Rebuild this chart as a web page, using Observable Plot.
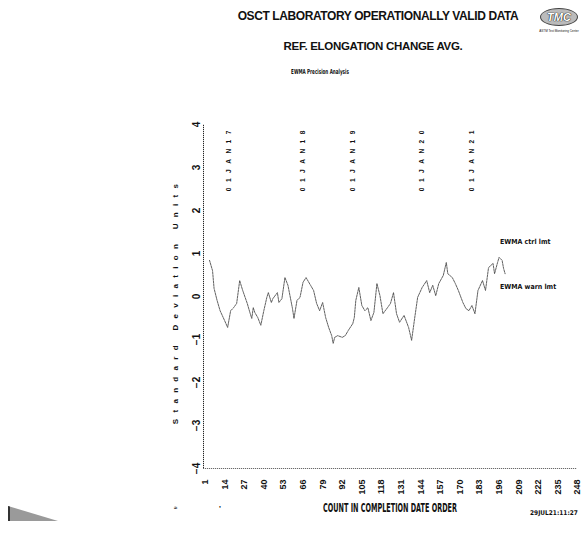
<!DOCTYPE html>
<html><head><meta charset="utf-8">
<script src="https://cdn.jsdelivr.net/npm/d3@7"></script>
<script src="https://cdn.jsdelivr.net/npm/@observablehq/plot@0.6"></script>
<style>
body{margin:0;background:#fff;}
#wrap{position:relative;width:583px;height:544px;overflow:hidden;font-family:"Liberation Sans",Arial,sans-serif;color:#111;background:#fff;}
#chart{position:absolute;left:0;top:0;}
.t{position:absolute;white-space:nowrap;font-weight:bold;line-height:1;}
.c{transform:translate(-50%,-50%);}
</style></head><body><div id="wrap">
<div id="chart"></div>
<div class="t c" style="left:378px;top:16px;font-size:12px;letter-spacing:-0.4px;">OSCT LABORATORY OPERATIONALLY VALID DATA</div>
<div class="t c" style="left:373px;top:47px;font-size:11.5px;letter-spacing:-0.3px;">REF. ELONGATION CHANGE AVG.</div>
<div class="t c" style="left:320px;top:72px;font-size:7px;font-family:'Liberation Sans Narrow','DejaVu Sans Condensed',sans-serif;transform:translate(-50%,-50%) scaleX(0.65);">EWMA Precision Analysis</div>
<div class="t c" style="left:559px;top:17px;width:36px;height:16px;border:1.5px solid #444;border-radius:50%;background:#bbb;font-size:11px;font-style:italic;color:#fff;text-align:center;line-height:16px;text-shadow:0 0 1px #000,0 0 1px #000;">TMC</div>
<div class="t c" style="left:559px;top:31px;font-size:3px;font-weight:normal;">ASTM Test Monitoring Center</div>
<div class="t c" style="left:176px;top:301px;font-size:8px;letter-spacing:6.3px;transform:translate(-50%,-50%) rotate(-90deg);">Standard Deviation Units</div>
<div class="t c" style="left:390px;top:508px;font-size:12px;font-family:'Liberation Sans Narrow','DejaVu Sans Condensed',sans-serif;transform:translate(-50%,-50%) scaleX(0.6);">COUNT IN COMPLETION DATE ORDER</div>
<div class="t" style="left:530px;top:510px;font-size:6.5px;font-family:'Liberation Sans Narrow','DejaVu Sans Condensed',sans-serif;">29JUL21:11:27</div>
<div class="t" style="left:500px;top:239px;font-size:7px;font-family:'Liberation Sans Narrow','DejaVu Sans Condensed',sans-serif;">EWMA ctrl lmt</div>
<div class="t" style="left:500px;top:284px;font-size:7px;font-family:'Liberation Sans Narrow','DejaVu Sans Condensed',sans-serif;">EWMA warn lmt</div>
<div class="t" style="left:174px;top:505px;font-size:6px;">≈</div>
<div class="t" style="left:219px;top:505px;font-size:8px;">'</div>
<div style="position:absolute;left:8px;top:506px;width:48px;height:15px;background:#9a9a9a;border-left:2px solid #333;clip-path:polygon(0 0,100% 100%,0 100%);"></div>
</div>
<script>
const counts = [4,6,7,9,11,14,16,18,20,22,24,26,29,31,32,33,34,36,38,40,42,43,45,46,49,50,52,54,56,59,60,62,64,66,68,71,73,75,77,79,81,83,85,86,87,89,92,94,96,99,100,101,103,105,107,109,111,113,115,117,119,122,124,126,128,130,133,136,138,140,142,145,148,150,152,154,156,159,161,162,165,167,169,172,174,176,178,180,182,185,187,189,192,193,195,196,198,199,200];
const sdValues = [0.84,0.60,0.19,-0.09,-0.33,-0.56,-0.72,-0.33,-0.26,-0.16,0.37,0.14,-0.16,-0.40,-0.51,-0.26,-0.37,-0.49,-0.67,-0.33,-0.02,0.09,-0.14,-0.05,0.09,-0.14,-0.05,0.44,0.26,-0.28,-0.51,-0.09,-0.02,0.33,0.44,0.26,0.14,-0.16,-0.33,-0.14,-0.49,-0.72,-0.91,-1.09,-0.95,-0.91,-0.95,-0.91,-0.79,-0.63,-0.49,-0.09,0.21,-0.21,-0.33,-0.26,-0.56,-0.37,0.30,0.02,-0.40,-0.26,-0.16,0.09,-0.40,-0.60,-0.44,-0.72,-1.02,-0.51,-0.02,0.21,0.37,0.09,0.26,0.02,0.30,0.49,0.79,0.53,0.44,0.30,0.14,-0.14,-0.28,-0.33,-0.21,-0.40,0.14,0.37,0.14,0.67,0.77,0.53,0.79,0.91,0.84,0.65,0.53];
const xTicks = [1,14,27,40,53,66,79,92,105,118,131,144,157,170,183,196,209,222,235,248];
const yTicks = [-4,-3,-2,-1,0,1,2,3,4];
const dateLabels = ["01JAN17","01JAN18","01JAN19","01JAN20","01JAN21"];
const dateCounts = [17,66,99,145,178];

const data = counts.map((c,i)=>({count:c, sd:sdValues[i]}));
const dates = dateLabels.map((l,i)=>({label:l, count:dateCounts[i]}));

const chart = Plot.plot({
  width:583, height:544,
  marginTop:124, marginBottom:76, marginLeft:203, marginRight:6,
  style:{background:"#fff", color:"#111", fontFamily:"'Liberation Sans Narrow','Liberation Sans',sans-serif"},
  x:{domain:[0,248], axis:null},
  y:{domain:[-4,4], axis:null},
  marks:[
    Plot.ruleX([0], {y1:-4, y2:4, stroke:"#222", strokeWidth:1, strokeDasharray:"1.2,0.8"}),
    Plot.ruleY([-4], {x1:0, x2:248, stroke:"#444", strokeWidth:0.8, strokeDasharray:"1.2,0.8"}),
    Plot.axisY({ticks:yTicks, tickSize:0, tickPadding:4, tickRotate:-90, fontSize:10, fontWeight:"bold", label:null}),
    Plot.axisX({ticks:xTicks, tickSize:0, tickPadding:11, tickRotate:-90, fontSize:9, fontWeight:"bold", label:null}),
    Plot.text(dates, {x:"count", y:2.45, text:"label", rotate:-90, textAnchor:"start", fontSize:6.5, fontWeight:"bold", fill:"#111"}),
    Plot.line(data, {x:"count", y:"sd", stroke:"#444", strokeWidth:0.85, strokeDasharray:"2,1"})
  ]
});
d3.select(chart).selectAll("g[aria-label='text'] text").style("letter-spacing","5.5px");
document.getElementById("chart").appendChild(chart);
</script>
</body></html>
